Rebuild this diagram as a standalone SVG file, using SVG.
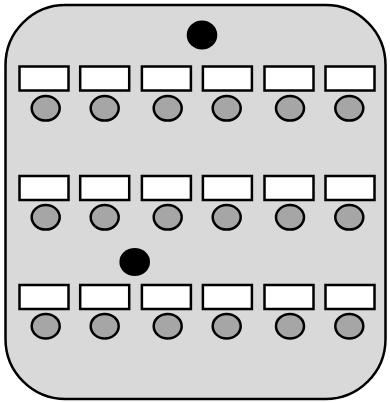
<svg xmlns="http://www.w3.org/2000/svg" width="390" height="403" viewBox="0 0 390 403">
<style>
.b{fill:#d9d9d9;stroke:#000;stroke-width:2.5}
.r{fill:#fff;stroke:#000;stroke-width:2.5}
.c{fill:#a6a6a6;stroke:#000;stroke-width:2.5}
.d{fill:#000}
</style>
<rect id="board" class="b" x="5.5" y="5" width="380" height="394" rx="60" ry="60"/>
<g id="dot1"><ellipse class="d" cx="202" cy="35" rx="15.3" ry="14.5"/></g>
<g id="dot2"><ellipse class="d" cx="134.7" cy="262" rx="15.3" ry="14"/></g>
<g id="row1">
<g id="r1c1"><rect class="r" x="19.5" y="66.5" width="49" height="24"/><ellipse class="c" cx="45.7" cy="108.3" rx="14" ry="12.3"/></g>
<g id="r1c2"><rect class="r" x="80.2" y="66.5" width="49" height="24"/><ellipse class="c" cx="104.7" cy="108.3" rx="14" ry="12.3"/></g>
<g id="r1c3"><rect class="r" x="141.9" y="66.5" width="49" height="24"/><ellipse class="c" cx="167.7" cy="108.3" rx="14" ry="12.3"/></g>
<g id="r1c4"><rect class="r" x="202.9" y="66.5" width="49" height="24"/><ellipse class="c" cx="226.7" cy="108.3" rx="14" ry="12.3"/></g>
<g id="r1c5"><rect class="r" x="264.5" y="66.5" width="49" height="24"/><ellipse class="c" cx="290" cy="108.3" rx="14" ry="12.3"/></g>
<g id="r1c6"><rect class="r" x="325.5" y="66.5" width="49" height="24"/><ellipse class="c" cx="349.3" cy="108.3" rx="14" ry="12.3"/></g>
</g>
<g id="row2">
<g id="r2c1"><rect class="r" x="19.5" y="176" width="49" height="24"/><ellipse class="c" cx="45.7" cy="217.3" rx="14" ry="12.3"/></g>
<g id="r2c2"><rect class="r" x="80.2" y="176" width="49" height="24"/><ellipse class="c" cx="104.7" cy="217.3" rx="14" ry="12.3"/></g>
<g id="r2c3"><rect class="r" x="141.9" y="176" width="49" height="24"/><ellipse class="c" cx="167.7" cy="217.3" rx="14" ry="12.3"/></g>
<g id="r2c4"><rect class="r" x="202.9" y="176" width="49" height="24"/><ellipse class="c" cx="226.7" cy="217.3" rx="14" ry="12.3"/></g>
<g id="r2c5"><rect class="r" x="264.5" y="176" width="49" height="24"/><ellipse class="c" cx="290" cy="217.3" rx="14" ry="12.3"/></g>
<g id="r2c6"><rect class="r" x="325.5" y="176" width="49" height="24"/><ellipse class="c" cx="349.3" cy="217.3" rx="14" ry="12.3"/></g>
</g>
<g id="row3">
<g id="r3c1"><rect class="r" x="19.5" y="285" width="49" height="24"/><ellipse class="c" cx="45.7" cy="326.2" rx="14" ry="12.3"/></g>
<g id="r3c2"><rect class="r" x="80.2" y="285" width="49" height="24"/><ellipse class="c" cx="104.7" cy="326.2" rx="14" ry="12.3"/></g>
<g id="r3c3"><rect class="r" x="141.9" y="285" width="49" height="24"/><ellipse class="c" cx="167.7" cy="326.2" rx="14" ry="12.3"/></g>
<g id="r3c4"><rect class="r" x="202.9" y="285" width="49" height="24"/><ellipse class="c" cx="226.7" cy="326.2" rx="14" ry="12.3"/></g>
<g id="r3c5"><rect class="r" x="264.5" y="285" width="49" height="24"/><ellipse class="c" cx="290" cy="326.2" rx="14" ry="12.3"/></g>
<g id="r3c6"><rect class="r" x="325.5" y="285" width="49" height="24"/><ellipse class="c" cx="349.3" cy="326.2" rx="14" ry="12.3"/></g>
</g>
<g id="connectors"/>
</svg>
